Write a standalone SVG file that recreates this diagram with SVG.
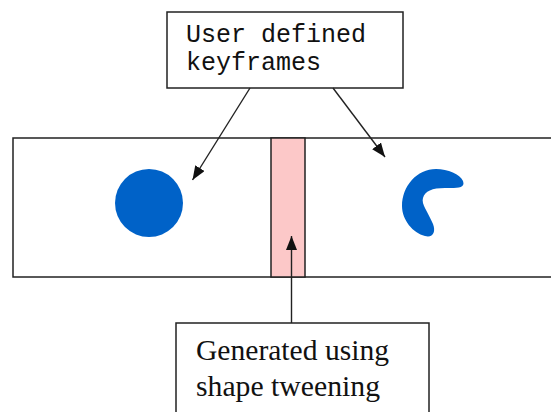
<svg xmlns="http://www.w3.org/2000/svg" width="551" height="412" viewBox="0 0 551 412">
<style>
.box{fill:#fff;stroke:#222;stroke-width:1.5}
.ln{stroke:#222;stroke-width:1.4;fill:none}
.mono{font-family:"Liberation Mono","Courier New",monospace;font-size:25px;fill:#111}
.ser{font-family:"Liberation Serif","Times New Roman",serif;font-size:29px;fill:#111}
.blue{fill:#0062c8}
</style>
<defs>
<marker id="ah" viewBox="0 0 14 11" refX="14" refY="5.5" markerWidth="14" markerHeight="11" markerUnits="userSpaceOnUse" orient="auto">
<path d="M0,0 L14,5.5 L0,11 Z" fill="#111"/>
</marker>
</defs>
<rect width="551" height="412" fill="#fff"/>
<g id="strip">
<rect class="box" x="13" y="138" width="560" height="139"/>
<rect x="271" y="138" width="34" height="139" fill="#fcc8c8" stroke="#222" stroke-width="1.5"/>
</g>
<g id="keyframe-circle">
<circle class="blue" cx="149" cy="203" r="34"/>
</g>
<g id="keyframe-crescent">
<path class="blue" d="M463,181 C460,174 448,169 436,169 C417,169 402,186 402,206 C402,220 413,233 425,236 C433,238 436,232 433,224 C428,212 421,204 423,198 C425,191 432,188 445,188 C455,188 466,189 463,181 Z"/>
</g>
<g id="label-keyframes">
<rect class="box" x="167" y="12" width="236" height="76"/>
<text class="mono" x="186" y="42">User defined</text>
<text class="mono" x="186" y="70">keyframes</text>
</g>
<g id="label-tweening">
<rect class="box" x="176" y="323" width="253" height="100"/>
<text class="ser" x="196" y="360" textLength="193" lengthAdjust="spacingAndGlyphs">Generated using</text>
<text class="ser" x="196" y="396" textLength="184" lengthAdjust="spacingAndGlyphs">shape tweening</text>
</g>
<g id="connectors">
<line class="ln" x1="250" y1="88" x2="192.5" y2="180" marker-end="url(#ah)"/>
<line class="ln" x1="333" y1="88" x2="385" y2="157" marker-end="url(#ah)"/>
<line class="ln" x1="291.5" y1="323" x2="291.5" y2="236" marker-end="url(#ah)"/>
</g>
</svg>
